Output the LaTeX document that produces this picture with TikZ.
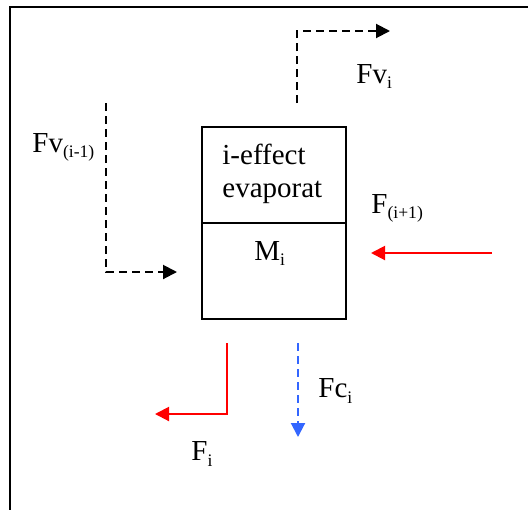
\documentclass[tikz,border=0pt]{standalone}
\usepackage{fontspec}
\setmainfont{Liberation Serif}
\usetikzlibrary{arrows.meta}
\definecolor{fcblue}{RGB}{51,102,255}
\newcommand\lowidx[1]{\raisebox{-0.45ex}{\fontsize{8.8}{10}\selectfont #1}}
\begin{document}
\begin{tikzpicture}[x=0.5pt,y=-0.5pt,
        tip/.style={-{Triangle[length=7pt,width=7pt]}},
        vapour/.style={line width=1pt,dash pattern=on 4pt off 2.5pt,tip},
        liquid/.style={line width=1pt,red,tip},
        condensate/.style={line width=1pt,fcblue,dash pattern=on 4pt off 2.5pt,tip},
        lbl/.style={anchor=base west,inner sep=0pt,font=\fontsize{14.5}{16.5}\selectfont}]
    \useasboundingbox (0,0) rectangle (528,509);
    \draw[line width=1pt] (10,7) rectangle (560,540);
    % evaporator
    \node[draw,line width=1pt,minimum width=72pt,minimum height=96pt,inner sep=0pt] (evap) at (274,223) {};
    \draw[line width=1pt] (evap.west) -- (evap.east);
    \node[lbl] (title1) at (222,164) {i-effect};
    \node[lbl] (title2) at (222,197) {evaporat};
    \node[lbl] (hold) at (254,260) {M\lowidx{i}};
    % points
    \coordinate (VinA) at (106,103);
    \coordinate (VinB) at (106,272);
    \coordinate (VinC) at (177,272);
    \coordinate (VoutA) at (297,103);
    \coordinate (VoutB) at (297,31);
    \coordinate (VoutC) at (390,31);
    \coordinate (LinA) at (492,253);
    \coordinate (LinB) at (371,253);
    \coordinate (LoutA) at (227,343);
    \coordinate (LoutB) at (227,414);
    \coordinate (LoutC) at (155,414);
    \coordinate (CoutA) at (298,343);
    \coordinate (CoutB) at (298,437);
    % streams
    \draw[vapour] (VinA) -- (VinB) -- (VinC);
    \draw[vapour] (VoutA) -- (VoutB) -- (VoutC);
    \draw[liquid] (LinA) -- (LinB);
    \draw[liquid] (LoutA) -- (LoutB) -- (LoutC);
    \draw[condensate] (CoutA) -- (CoutB);
    \node[lbl] (Vin) at (32,152) {Fv\lowidx{(i-1)}};
    \node[lbl] (Vout) at (356,83) {Fv\lowidx{i}};
    \node[lbl] (Lin) at (371,213) {F\lowidx{(i+1)}};
    \node[lbl] (Lout) at (191,460) {F\lowidx{i}};
    \node[lbl] (Cout) at (318,397) {Fc\lowidx{i}};
\end{tikzpicture}
\end{document}
